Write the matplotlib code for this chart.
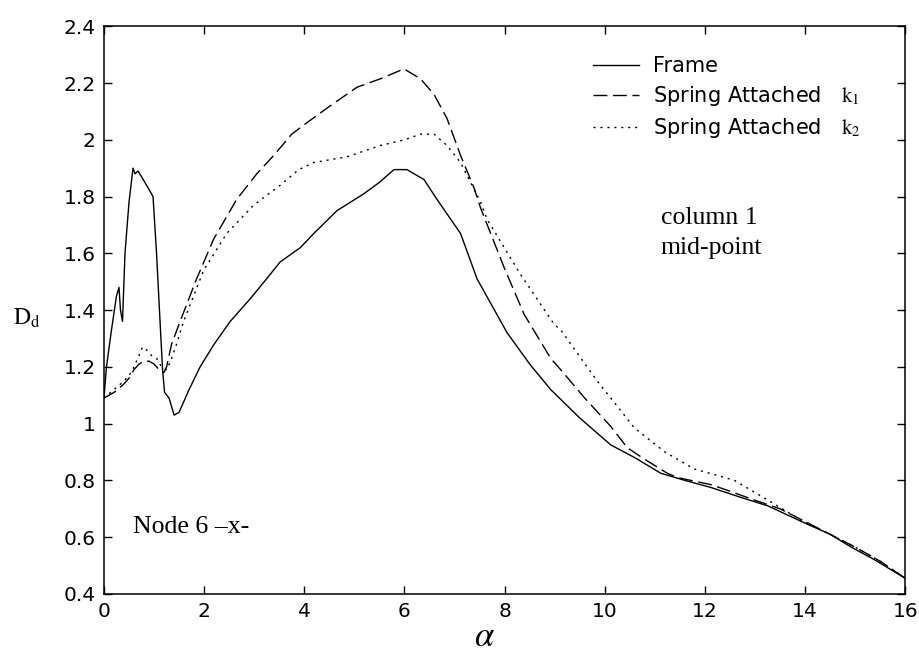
"""Dynamic amplification D_d vs alpha at column 1 mid-point (node 6, x-direction)."""

import matplotlib

matplotlib.use("Agg")
import matplotlib.pyplot as plt

plt.rcParams["mathtext.fontset"] = "stix"
plt.rcParams["font.family"] = ["DejaVu Sans"]

# frame without springs
frame_alpha = [0, 0.05, 0.15, 0.25, 0.3, 0.33, 0.37, 0.42, 0.5, 0.58, 0.62, 0.68, 0.75, 0.85,
               0.98, 1.05, 1.12, 1.17, 1.21, 1.3, 1.35, 1.4, 1.5, 1.7, 1.92, 2.2, 2.52, 2.92,
               3.2, 3.52, 3.92, 4.19, 4.65, 5.19, 5.5, 5.79, 6.05, 6.39, 6.65, 7.12, 7.45,
               8.05, 8.5, 8.92, 9.5, 10.12, 10.6, 11.12, 11.6, 12.12, 12.72, 13.26, 13.99,
               14.5, 14.92, 15.39, 16.0]
frame_dd = [1.09, 1.2, 1.33, 1.45, 1.48, 1.40, 1.36, 1.6, 1.78, 1.90, 1.88, 1.89, 1.87, 1.84,
            1.80, 1.60, 1.36, 1.19, 1.11, 1.09, 1.06, 1.03, 1.04, 1.12, 1.2, 1.28, 1.36, 1.44,
            1.50, 1.57, 1.62, 1.67, 1.75, 1.81, 1.85, 1.895, 1.895, 1.86, 1.79, 1.67, 1.51,
            1.32, 1.21, 1.12, 1.02, 0.925, 0.88, 0.825, 0.80, 0.775, 0.74, 0.71, 0.65,
            0.61, 0.565, 0.52, 0.455]

# spring attached, k1
k1_alpha = [0, 0.2, 0.4, 0.5, 0.6, 0.7, 0.8, 0.9, 1.0, 1.1, 1.2, 1.25, 1.35, 1.52, 1.85, 2.19,
            2.65, 3.05, 3.39, 3.75, 4.05, 4.52, 5.05, 5.52, 5.99, 6.32, 6.59, 6.85, 7.12, 7.39,
            7.52, 7.99, 8.39, 8.92, 9.12, 9.6, 10.12, 10.45, 10.79, 11.25, 11.45, 12.12, 12.45,
            13.0, 13.5, 14.0, 14.5, 15.0, 15.5, 16.0]
k1_dd = [1.09, 1.11, 1.14, 1.16, 1.19, 1.21, 1.22, 1.22, 1.21, 1.19, 1.18, 1.2, 1.28, 1.36, 1.51,
         1.65, 1.79, 1.88, 1.945, 2.02, 2.06, 2.12, 2.185, 2.215, 2.25, 2.215, 2.16, 2.075,
         1.945, 1.83, 1.76, 1.55, 1.385, 1.23, 1.19, 1.09, 0.99, 0.915, 0.875, 0.825, 0.81,
         0.785, 0.765, 0.73, 0.7, 0.655, 0.61, 0.565, 0.515, 0.455]

# spring attached, k2
k2_alpha = [0, 0.2, 0.4, 0.5, 0.6, 0.7, 0.77, 0.85, 0.95, 1.05, 1.15, 1.25, 1.33, 1.45, 1.59,
            1.99, 2.45, 2.99, 3.52, 3.89, 4.19, 4.85, 5.52, 6.0, 6.32, 6.59, 6.85, 7.12, 7.52,
            7.65, 8.32, 8.99, 9.12, 9.85, 10.3, 10.59, 11.2, 11.79, 12.2, 12.59, 13.26, 13.92,
            14.5, 15.0, 15.5, 16.0]
k2_dd = [1.09, 1.12, 1.15, 1.17, 1.2, 1.24, 1.27, 1.26, 1.24, 1.23, 1.2, 1.19, 1.22, 1.28, 1.36,
         1.54, 1.67, 1.77, 1.84, 1.895, 1.92, 1.94, 1.98, 2.0, 2.02, 2.02, 1.98, 1.92, 1.78,
         1.72, 1.525, 1.35, 1.33, 1.15, 1.05, 0.985, 0.90, 0.84, 0.82, 0.80, 0.73, 0.66,
         0.61, 0.565, 0.515, 0.455]

x_ticks = [0, 2, 4, 6, 8, 10, 12, 14, 16]
y_ticks = [0.4, 0.6, 0.8, 1, 1.2, 1.4, 1.6, 1.8, 2, 2.2, 2.4]
y_tick_labels = ["0.4", "0.6", "0.8", "1", "1.2", "1.4", "1.6", "1.8", "2", "2.2", "2.4"]

fig = plt.figure(figsize=(9.2, 6.57), dpi=100)
ax = fig.add_axes([0.113, 0.096, 0.871, 0.864])

ax.plot(frame_alpha, frame_dd, color="black", lw=1.0, label="Frame")
ax.plot(k1_alpha, k1_dd, color="black", lw=1.0, linestyle=(0, (10, 4)),
        label=r"Spring Attached   $\mathrm{k}_1$")
ax.plot(k2_alpha, k2_dd, color="black", lw=1.0, linestyle=(0, (1.5, 3.5)),
        label=r"Spring Attached   $\mathrm{k}_2$")

ax.set_xlim(0, 16)
ax.set_ylim(0.4, 2.4)
ax.set_xticks(x_ticks)
ax.set_yticks(y_ticks)
ax.set_yticklabels(y_tick_labels)
ax.tick_params(direction="in", length=5.5, width=1.0, labelsize=14.5, pad=6,
               top=True, right=True)
for spine in ax.spines.values():
    spine.set_linewidth(1.1)

ax.set_xlabel(r"$\alpha$", fontsize=25)
ax.xaxis.set_label_coords(0.475, -0.045)
ax.text(-0.096, 0.486, r"$\mathrm{D}_\mathrm{d}$", transform=ax.transAxes,
        fontsize=17, ha="center", va="center")

serif = ["Liberation Serif", "DejaVu Serif"]
ax.text(0.58, 0.635, "Node 6 \u2013x-", family=serif, fontsize=18.5, va="center")
ax.text(11.12, 1.723, "column 1", family=serif, fontsize=18.5, va="center")
ax.text(11.12, 1.618, "mid-point", family=serif, fontsize=18.5, va="center")

ax.legend(loc="upper left", bbox_to_anchor=(0.61, 0.948), frameon=False, fontsize=15,
          handlelength=2.2, handletextpad=0.7, labelspacing=0.4, borderpad=0,
          borderaxespad=0)

fig.savefig("out.png", dpi=100)
